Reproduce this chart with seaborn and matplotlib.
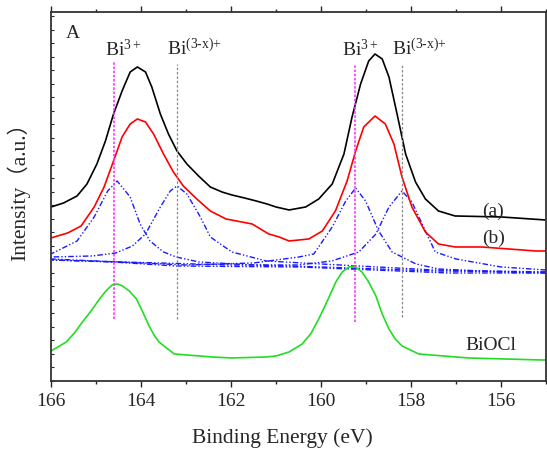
import numpy as np
import pandas as pd
import matplotlib
matplotlib.use("Agg")
import matplotlib.pyplot as plt
from matplotlib.ticker import MultipleLocator, NullFormatter
import seaborn as sns

# ==== DATA (intensity in arbitrary units) ====
be_a = [166.0, 165.72, 165.42, 165.20, 164.98, 164.79, 164.61, 164.42, 164.24, 164.08,
        163.90, 163.76, 163.57, 163.39, 163.20, 162.98, 162.72, 162.46, 162.20, 161.98,
        161.70, 161.44, 161.20, 161.00, 160.71, 160.34, 160.05, 159.75, 159.49, 159.31,
        159.12, 158.94, 158.80, 158.64, 158.49, 158.31, 158.12, 157.90, 157.68, 157.39,
        157.02, 155.99, 155.01]
int_a = [174, 178, 185, 197, 217, 240, 267, 290, 309, 314,
         309, 294, 267, 247, 230, 217, 205, 194, 189, 186,
         183, 180, 177, 174, 171, 174, 182, 197, 227, 264,
         297, 320, 327, 322, 304, 267, 227, 199, 182, 170,
         165, 164, 161]

be_b = [166.0, 165.63, 165.33, 165.04, 164.82, 164.61, 164.42, 164.24, 164.08, 163.90,
        163.72, 163.50, 163.28, 163.06, 162.76, 162.46, 162.11, 161.53, 161.16, 160.93,
        160.71, 160.27, 159.97, 159.68, 159.42, 159.23, 159.05, 158.80, 158.57, 158.38,
        158.20, 157.98, 157.68, 157.39, 157.02, 156.43, 155.23, 155.01]
int_b = [143, 148, 155, 174, 194, 220, 244, 257, 262, 259,
         247, 227, 209, 195, 182, 170, 162, 157, 147, 144,
         140, 142, 150, 170, 200, 230, 254, 265, 257, 237,
         204, 174, 149, 137, 134, 134, 130, 130]

be_base = [166.0, 164.64, 163.22, 160.49, 157.16, 155.0]
int_base = [121, 119, 115, 114, 108, 108]

be_c1 = [166.0, 165.42, 165.04, 164.74, 164.53, 164.24, 164.02, 163.80, 163.50, 163.22,
         162.71, 161.5, 160.0, 157.5, 155.0]
int_c1 = [127, 140, 164, 190, 200, 184, 157, 140, 129, 124,
          119, 116, 114, 110, 109]

be_c2 = [166.0, 165.08, 164.56, 164.19, 163.90, 163.57, 163.35, 163.20, 162.98, 162.68,
         162.46, 161.98, 161.22, 160.0, 157.5, 155.0]
int_c2 = [124, 125, 128, 135, 147, 174, 190, 195, 187, 164,
          144, 129, 120, 117, 111, 109]

be_c3 = [166.0, 163.0, 161.5, 160.49, 160.16, 159.75, 159.45, 159.23, 159.01, 158.72,
         158.42, 157.89, 157.39, 156.0, 155.0]
int_c3 = [122, 116, 118, 124, 127, 154, 180, 193, 180, 150,
          129, 117, 112, 109, 108]

be_c4 = [166.0, 162.0, 160.5, 159.76, 159.16, 158.78, 158.49, 158.20, 157.98, 157.68,
         157.46, 157.0, 156.5, 156.0, 155.0]
int_c4 = [121, 116, 116, 120, 129, 147, 174, 190, 179, 150,
          129, 122, 118, 114, 111]

be_ref = [166.0, 165.81, 165.66, 165.48, 165.30, 165.11, 164.92, 164.78, 164.64, 164.52,
          164.41, 164.26, 164.10, 163.96, 163.82, 163.71, 163.60, 163.26, 162.42, 161.98,
          161.22, 161.0, 160.71, 160.42, 160.23, 160.05, 159.86, 159.67, 159.53, 159.38,
          159.26, 159.09, 158.94, 158.78, 158.64, 158.49, 158.35, 158.20, 157.83, 156.72,
          155.10, 155.0]
int_ref = [30, 35, 39, 48, 59, 70, 82, 90, 96, 97,
           95, 90, 82, 69, 55, 46, 39, 27, 24, 23,
           24, 25, 29, 37, 47, 62, 80, 99, 109, 114,
           115, 109, 99, 85, 67, 52, 42, 35, 27, 23,
           21, 21]

bi3_pos = [164.6, 159.25]
bi3_lo = [62, 59]
bi3_hi = [319, 316]
bix_pos = [163.2, 158.2]
bix_lo = [62, 64]
bix_hi = [317, 316]

# ==== STYLE ====
sns.set_style("ticks")
plt.rcParams['font.family'] = ['Liberation Serif', 'Noto Sans CJK SC']
plt.rcParams['mathtext.fontset'] = 'custom'
plt.rcParams['mathtext.rm'] = 'Liberation Serif'
plt.rcParams['mathtext.it'] = 'Liberation Serif:italic'

fig = plt.figure(figsize=(5.47, 4.52), dpi=100)
ax = fig.add_axes([0.0932, 0.1549, 0.905, 0.8164])

def curve(be, inten, **kw):
    df = pd.DataFrame({'be': be, 'i': inten})
    sns.lineplot(data=df, x='be', y='i', ax=ax, estimator=None, legend=False, **kw)

dashdot = (0, (4, 1.5, 1, 1.5, 1, 1.5))
for be, it in [(be_base, int_base), (be_c1, int_c1), (be_c2, int_c2),
               (be_c3, int_c3), (be_c4, int_c4)]:
    curve(be, it, color='#1a1aff', lw=1.0, linestyle=dashdot)

curve(be_a, int_a, color='black', lw=1.2)
curve(be_b, int_b, color='red', lw=1.2)
curve(be_ref, int_ref, color='#22dd22', lw=1.2)

ax.vlines(bi3_pos, bi3_lo, bi3_hi, colors='#ff33ff', linestyles=(0, (1.5, 1)), lw=1.2)
ax.vlines(bix_pos, bix_lo, bix_hi, colors='#888888', linestyles=(0, (2, 1.5)), lw=0.9)

# ==== LABELS ====
fs = 14
ax.text(165.66, 344, 'A', fontsize=fs)
ax.text(164.81, 326, r'Bi$^{3+}$', fontsize=fs)
ax.text(163.43, 326, r'Bi$^{\text{(3-x)+}}$', fontsize=fs)
ax.text(159.53, 326, r'Bi$^{3+}$', fontsize=fs)
ax.text(158.43, 326, r'Bi$^{\text{(3-x)+}}$', fontsize=fs)
ax.text(156.43, 166, '(a)', fontsize=fs)
ax.text(156.43, 139, '(b)', fontsize=fs)
ax.text(156.79, 32, 'BiOCl', fontsize=fs)

ax.set_xlim(166, 155)
ax.set_ylim(0, 369)
ax.set_xlabel('Binding Energy (eV)', fontsize=15.5)
ax.xaxis.set_label_coords(0.467, -0.125)
ax.set_ylabel('Intensity（a.u.）', fontsize=15.5)
ax.yaxis.set_label_coords(-0.042, 0.53)

ax.xaxis.set_major_locator(MultipleLocator(2))
ax.xaxis.set_minor_locator(MultipleLocator(1))
ax.yaxis.set_major_locator(MultipleLocator(13.5))
ax.yaxis.set_major_formatter(NullFormatter())
ax.tick_params(axis='x', which='major', direction='out', length=4, width=1, labelsize=fs,
               top=True, pad=4)
ax.tick_params(axis='x', which='minor', direction='out', length=2.5, width=1, top=True)
ax.tick_params(axis='y', which='major', direction='in', length=2.5, width=0.8)
for s in ax.spines.values():
    s.set_linewidth(1.3)
    s.set_color('#333333')

fig.savefig('out.png', dpi=100)
